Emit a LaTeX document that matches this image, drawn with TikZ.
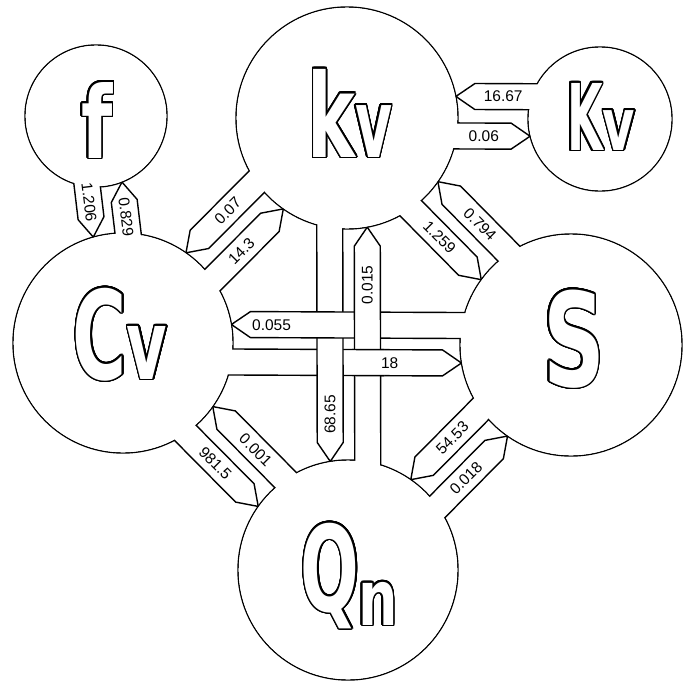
\documentclass[tikz,border=0pt]{standalone}
\usepackage{fontspec}
\setmainfont{Liberation Sans}
\newfontfamily\bigfont{DejaVu Sans}[BoldFont={DejaVu Sans Bold}]
\usepackage[copies]{contour}
\contourlength{1.5pt}
\contournumber{32}
\usetikzlibrary{calc}

% band geometry: #1 name, #2 #3 source centre, #4 source radius,
% #5 #6 target centre, #7 target radius, #8 offset, #9 label fraction
\newcommand\mkband[9]{%
 \pgfmathsetmacro\bdL{100*veclen(((#5)-(#2))/100,((#6)-(#3))/100)}%
 \pgfmathsetmacro\bdux{((#5)-(#2))/\bdL}%
 \pgfmathsetmacro\bduy{((#6)-(#3))/\bdL}%
 \pgfmathsetmacro\bdnx{-(\bduy)}%
 \pgfmathsetmacro\bdny{\bdux}%
 \pgfmathsetmacro\bdaT{\bdL-sqrt((#7)*(#7)-(#8)*(#8))}%
 \pgfmathsetmacro\bdaE{sqrt((#4)*(#4)-(#8)*(#8))}%
 \pgfmathsetmacro\bdaL{\bdaE+(#9)*(\bdaT-19-\bdaE)}%
 \pgfmathsetmacro\bdox{(#2)+(\bdnx)*(#8)}%
 \pgfmathsetmacro\bdoy{(#3)+(\bdny)*(#8)}%
 \coordinate (#1T) at ({\bdox+(\bdux)*\bdaT},{\bdoy+(\bduy)*\bdaT});
 \coordinate (#1A) at ({\bdox+(\bdux)*(\bdaT-19)+(\bdnx)*13},{\bdoy+(\bduy)*(\bdaT-19)+(\bdny)*13});
 \coordinate (#1B) at ({\bdox+(\bdux)*(\bdaT-19)-(\bdnx)*13},{\bdoy+(\bduy)*(\bdaT-19)-(\bdny)*13});
 \coordinate (#1P) at ({\bdox+(\bdnx)*13},{\bdoy+(\bdny)*13});
 \coordinate (#1Q) at ({\bdox-(\bdnx)*13},{\bdoy-(\bdny)*13});
 \coordinate (#1L) at ({\bdox+(\bdux)*\bdaL},{\bdoy+(\bduy)*\bdaL});
}
\newcommand\drawband[1]{%
 \fill[white] (#1P) -- (#1A) -- (#1T) -- (#1B) -- (#1Q) -- cycle;
 \draw[bandline] (#1P) -- (#1A) -- (#1T) -- (#1B) -- (#1Q);
}
\newcommand\gl[3]{{\fontsize{#1}{#1}\selectfont\scalebox{#2}[1]{#3}}}

\begin{document}
\begin{tikzpicture}[x=1pt,y=-1pt,line join=round,
  ring/.style={line width=1.4pt},
  bandline/.style={line width=1.4pt},
  lbl/.style={font=\fontsize{15.5}{15.5}\selectfont, inner sep=0pt},
  big/.style={text=white, font=\bigfont\bfseries, inner sep=0pt, anchor=base}]
\useasboundingbox (0,0) rectangle (691,681);

\coordinate (f) at (96,116);
\coordinate (kv) at (347,118);
\coordinate (Kv) at (600,119);
\coordinate (Cv) at (123,343);
\coordinate (S) at (571,345);
\coordinate (Qn) at (348,570);

% circle outlines
\draw[ring] (f) circle[radius=71pt];
\draw[ring] (kv) circle[radius=111pt];
\draw[ring] (Kv) circle[radius=72pt];
\draw[ring] (Cv) circle[radius=110pt];
\draw[ring] (S) circle[radius=111pt];
\draw[ring] (Qn) circle[radius=110pt];

% band geometry
\mkband{ba}{96}{116}{71}{123}{343}{110}{17}{0.5}
\mkband{bb}{123}{343}{110}{96}{116}{71}{18}{0.5}
\mkband{bc}{600}{119}{72}{347}{118}{111}{22}{0.5}
\mkband{bd}{347}{118}{111}{600}{119}{72}{17.5}{0.5}
\mkband{be}{347}{118}{111}{123}{343}{110}{19}{0.5}
\mkband{bf}{123}{343}{110}{347}{118}{111}{19}{0.5}
\mkband{bg}{347}{118}{111}{571}{345}{111}{18}{0.5}
\mkband{bh}{571}{345}{111}{347}{118}{111}{20}{0.5}
\mkband{bi}{123}{343}{110}{348}{570}{110}{19}{0.5}
\mkband{bj}{348}{570}{110}{123}{343}{110}{19}{0.5}
\mkband{bk}{571}{345}{111}{348}{570}{110}{19}{0.5}
\mkband{bl}{348}{570}{110}{571}{345}{111}{19}{0.5}
\mkband{bm}{347}{118}{111}{348}{570}{110}{17.5}{0.87}
\mkband{bn}{348}{570}{110}{347}{118}{111}{20}{0.82}
\mkband{bo}{571}{345}{111}{123}{343}{110}{19}{0.9}
\mkband{bp}{123}{343}{110}{571}{345}{111}{18.5}{0.75}

\drawband{ba}\drawband{bb}\drawband{bc}\drawband{bd}
\drawband{be}\drawband{bf}\drawband{bg}\drawband{bh}
\drawband{bi}\drawband{bj}\drawband{bk}\drawband{bl}
% woven crossing
\drawband{bp}\drawband{bm}\drawband{bo}\drawband{bn}

% clear circle interiors
\fill[white] (f) circle[radius=70.3pt];
\fill[white] (kv) circle[radius=110.3pt];
\fill[white] (Kv) circle[radius=71.3pt];
\fill[white] (Cv) circle[radius=109.3pt];
\fill[white] (S) circle[radius=110.3pt];
\fill[white] (Qn) circle[radius=109.3pt];

% 18 passes over 0.015
\begin{scope}
\clip (352,348) rectangle (384,377);
\drawband{bp}
\end{scope}

% band labels
\node[lbl,rotate=-83] (la) at (baL) {1.206};
\node[lbl,rotate=-83] (lb) at (bbL) {0.829};
\node[lbl] (lc) at (bcL) {16.67};
\node[lbl] (ld) at (bdL) {0.06};
\node[lbl,rotate=45] (le) at (beL) {0.07};
\node[lbl,rotate=45] (lf) at (bfL) {14.3};
\node[lbl,rotate=-45] (lg) at (bgL) {1.259};
\node[lbl,rotate=-45] (lh) at (bhL) {0.794};
\node[lbl,rotate=-45] (li) at (biL) {981.5};
\node[lbl,rotate=-45] (lj) at (bjL) {0.001};
\node[lbl,rotate=45] (lk) at (bkL) {54.53};
\node[lbl,rotate=45] (ll) at (blL) {0.018};
\node[lbl,rotate=90] (lm) at (bmL) {68.65};
\node[lbl,rotate=90] (ln) at (bnL) {0.015};
\node[lbl] (lo) at (boL) {0.055};
\node[lbl] (lp) at (bpL) {18};

% circle letters (hollow)
\node[big] (tf) at (97,158) {\contour{black}{\gl{100}{0.72}{f}}};
\node[big] (tkv) at (350,157) {\contour{black}{\gl{116}{0.62}{k}\gl{95}{0.6}{v}}};
\node[big] (tKv) at (601,150) {\contour{black}{\gl{92}{0.5}{K}\gl{73}{0.68}{v}}};
\node[big] (tCv) at (120,379) {\contour{black}{\gl{123}{0.6}{C}\gl{97}{0.64}{v}}};
\node[big] (tS) at (574,386) {\contour{black}{\gl{130}{0.66}{S}}};
\node[big] (tQ) at (330,611) {\contour{black}{\gl{119}{0.58}{Q}}};
\node[big] (tn) at (378,625) {\contour{black}{\gl{77}{0.72}{n}}};
\end{tikzpicture}
\end{document}
